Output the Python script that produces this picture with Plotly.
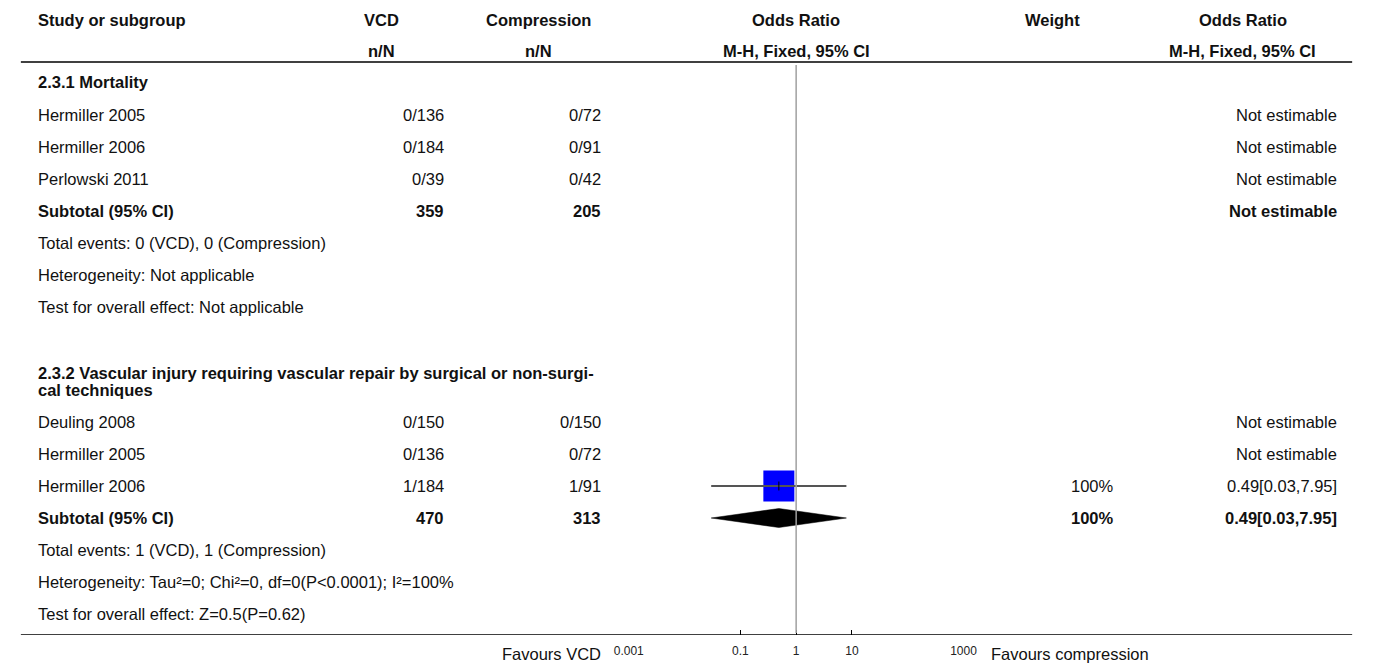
import plotly.graph_objects as go

# ---- data -------------------------------------------------------------
group_titles = [
    ["2.3.1 Mortality"],
    ["2.3.2 Vascular injury requiring vascular repair by surgical or non-surgi-",
     "cal techniques"],
]

studies = [
    ["Hermiller 2005", "Hermiller 2006", "Perlowski 2011"],
    ["Deuling 2008", "Hermiller 2005", "Hermiller 2006"],
]
vcd_events = [[0, 0, 0], [0, 0, 1]]
vcd_total = [[136, 184, 39], [150, 136, 184]]
comp_events = [[0, 0, 0], [0, 0, 1]]
comp_total = [[72, 91, 42], [150, 72, 91]]
study_weight = [[None, None, None], [None, None, 100]]
study_or = [[None, None, None], [None, None, 0.49]]
study_lo = [[None, None, None], [None, None, 0.03]]
study_hi = [[None, None, None], [None, None, 7.95]]

subtotal_weight = [None, 100]
subtotal_or = [None, 0.49]
subtotal_lo = [None, 0.03]
subtotal_hi = [None, 7.95]

heterogeneity = [
    "Heterogeneity: Not applicable",
    "Heterogeneity: Tau\u00b2=0; Chi\u00b2=0, df=0(P<0.0001); I\u00b2=100%",
]
overall_effect = [
    "Test for overall effect: Not applicable",
    "Test for overall effect: Z=0.5(P=0.62)",
]

tick_values = [0.001, 0.1, 1, 10, 1000]
tick_labels = ["0.001", "0.1", "1", "10", "1000"]

# ---- layout constants (pixels) ----------------------------------------
W, H = 1373, 664
AXIS_Y = 635
FONT = "Liberation Sans"
FS = 16.5
ROW = 32

X_STUDY = 21
X_VCD_HDR, X_VCD = 374, 440
X_CMP_HDR, X_CMP = 535, 601
X_OR_HDR = 798
X_W_HDR, X_W = 1060, 1125
X_ORT_HDR, X_ORT = 1254, 1353

TITLE_Y = [82, 373]        # first title line of each subgroup
FIRST_ROW_Y = [115, 422]   # first study row of each subgroup
TITLE_LINE = 17

fig = go.Figure()
ann = []


def px(x):
    return x / W


def text(x, y, s, anchor="left", bold=False, size=FS, color="#111111",
         yref="y"):
    ann.append(dict(
        x=px(x), y=y, xref="paper", yref=yref,
        text=f"<b>{s}</b>" if bold else s,
        showarrow=False, xanchor=anchor, yanchor="middle",
        font=dict(family=FONT, size=size, color=color),
    ))


def fmt_ci(o, lo, hi):
    return f"{o:.2f}[{lo:.2f},{hi:.2f}]"


# column headers
text(X_STUDY, 20, "Study or subgroup", bold=True)
text(X_VCD_HDR, 20, "VCD", "center", True)
text(X_VCD_HDR, 51, "n/N", "center", True)
text(X_CMP_HDR, 20, "Compression", "center", True)
text(X_CMP_HDR, 51, "n/N", "center", True)
text(X_OR_HDR, 20, "Odds Ratio", "center", True)
text(X_OR_HDR, 51, "M-H, Fixed, 95% CI", "center", True)
text(X_W_HDR, 20, "Weight", "center", True)
text(X_ORT_HDR, 20, "Odds Ratio", "center", True)
text(X_ORT_HDR, 51, "M-H, Fixed, 95% CI", "center", True)

# ---- rows per subgroup ------------------------------------------------
for g in range(len(studies)):
    for i, line in enumerate(group_titles[g]):
        text(X_STUDY, TITLE_Y[g] + TITLE_LINE * i, line, bold=True)
    y = FIRST_ROW_Y[g]
    for k, name in enumerate(studies[g]):
        text(X_STUDY, y, name)
        text(X_VCD, y, f"{vcd_events[g][k]}/{vcd_total[g][k]}", "right")
        text(X_CMP, y, f"{comp_events[g][k]}/{comp_total[g][k]}", "right")
        if study_or[g][k] is None:
            text(X_ORT, y, "Not estimable", "right")
        else:
            o, lo, hi = study_or[g][k], study_lo[g][k], study_hi[g][k]
            text(X_W, y, f"{study_weight[g][k]}%", "right")
            text(X_ORT, y, fmt_ci(o, lo, hi), "right")
            fig.add_trace(go.Scatter(
                x=[o], y=[y], mode="markers",
                marker=dict(symbol="square", size=31, color="#0000ff",
                            line=dict(width=0)), hoverinfo="skip"))
            fig.add_trace(go.Scatter(
                x=[lo, hi], y=[y, y], mode="lines",
                line=dict(color="#555555", width=2), hoverinfo="skip"))
            fig.add_trace(go.Scatter(
                x=[o, o], y=[y - 4.5, y + 4.5], mode="lines",
                line=dict(color="#000000", width=1), hoverinfo="skip"))
        y += ROW
    # subtotal row
    text(X_STUDY, y, "Subtotal (95% CI)", bold=True)
    text(X_VCD, y, str(sum(vcd_total[g])), "right", True)
    text(X_CMP, y, str(sum(comp_total[g])), "right", True)
    if subtotal_or[g] is None:
        text(X_ORT, y, "Not estimable", "right", True)
    else:
        o, lo, hi = subtotal_or[g], subtotal_lo[g], subtotal_hi[g]
        text(X_W, y, f"{subtotal_weight[g]}%", "right", True)
        text(X_ORT, y, fmt_ci(o, lo, hi), "right", True)
        fig.add_trace(go.Scatter(
            x=[lo, o, hi, o, lo], y=[y, y - 9.5, y, y + 9.5, y],
            mode="lines", fill="toself", fillcolor="#000000",
            line=dict(color="#000000", width=0.5), hoverinfo="skip"))
    y += ROW
    text(X_STUDY, y, f"Total events: {sum(vcd_events[g])} (VCD), "
                     f"{sum(comp_events[g])} (Compression)")
    y += ROW
    text(X_STUDY, y, heterogeneity[g])
    y += ROW
    text(X_STUDY, y, overall_effect[g])

# labels under the axis
FOOT_Y = (H - 654) / H
text(X_CMP, FOOT_Y, "Favours VCD", "right", yref="paper")
text(995, FOOT_Y, "Favours compression", "left", yref="paper")

shapes = [
    # header rule
    dict(type="line", xref="paper", yref="y", x0=px(6), x1=px(1366),
         y0=62, y1=62, line=dict(color="#000000", width=1.6)),
    # bottom rule / axis line
    dict(type="line", xref="paper", yref="y", x0=px(6), x1=px(1366),
         y0=AXIS_Y, y1=AXIS_Y, line=dict(color="#000000", width=1.6)),
    # line of no effect
    dict(type="line", xref="x", yref="y", x0=1, x1=1, y0=65, y1=AXIS_Y - 2,
         line=dict(color="#a0a0a0", width=1.5)),
]

fig.update_layout(
    width=W, height=H,
    margin=dict(l=0, r=0, t=0, b=0),
    paper_bgcolor="#ffffff", plot_bgcolor="rgba(0,0,0,0)",
    showlegend=False,
    annotations=ann, shapes=shapes,
    xaxis=dict(
        type="log", range=[-3, 3], domain=[627 / W, 969 / W],
        tickvals=tick_values, ticktext=tick_labels,
        ticks="inside", ticklen=5, tickwidth=1, tickcolor="#000000",
        tickfont=dict(family=FONT, size=12, color="#222222"),
        showgrid=False, zeroline=False, showline=False,
        ticklabelstandoff=7, fixedrange=True,
    ),
    yaxis=dict(
        range=[AXIS_Y, 0], domain=[(H - AXIS_Y) / H, 1],
        visible=False, fixedrange=True,
    ),
)

fig.write_html("out.html")
